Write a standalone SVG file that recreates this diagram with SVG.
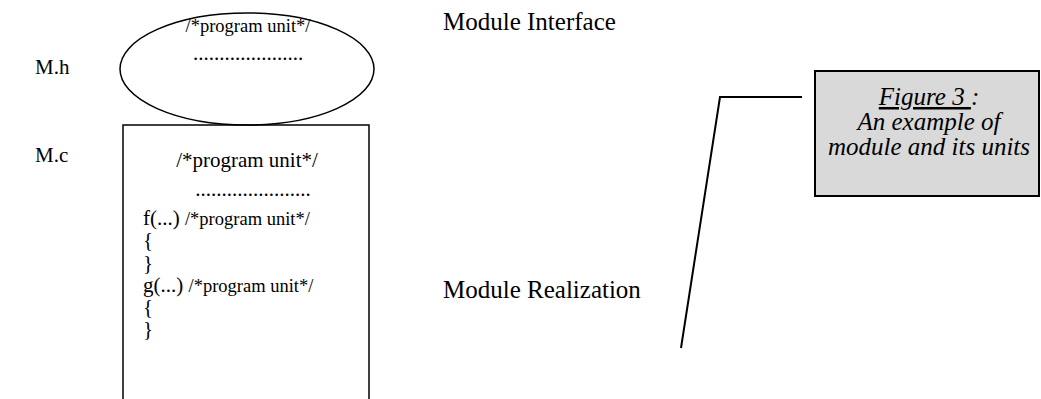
<svg xmlns="http://www.w3.org/2000/svg" width="1041" height="399" viewBox="0 0 1041 399">
  <style>
    .t { font-family: "Liberation Serif", "Times New Roman", serif; font-size: 21px; fill: #000; }
    .s { font-size: 18.5px; }
    .m { font-size: 25px; }
    .e { font-size: 18.5px; }
    .i { font-family: "Liberation Serif", "Times New Roman", serif; font-size: 25px; font-style: italic; fill: #000; }
    .shape { fill: none; stroke: #000; stroke-width: 1.5; }
    .conn { fill: none; stroke: #000; stroke-width: 2; }
  </style>

  <!-- file labels -->
  <g id="label-mh"><text class="t" x="35" y="74">M.h</text></g>
  <g id="label-mc"><text class="t" x="35" y="162">M.c</text></g>

  <!-- interface: header file -->
  <g id="interface">
    <ellipse class="shape" cx="247" cy="69" rx="127" ry="56"/>
    <text class="t e" x="248" y="32" text-anchor="middle">/*program unit*/</text>
    <text class="t" x="248" y="60" text-anchor="middle">.....................</text>
  </g>

  <!-- realization: source file -->
  <g id="realization">
    <rect class="shape" x="123" y="125" width="246" height="290"/>
    <text class="t" x="247" y="167" text-anchor="middle">/*program unit*/</text>
    <text class="t" x="253" y="196" text-anchor="middle">......................</text>
    <text class="t" x="143" y="225">f(...) <tspan class="s">/*program unit*/</tspan></text>
    <text class="t" x="143" y="247">{</text>
    <text class="t" x="143" y="270">}</text>
    <text class="t" x="143" y="292">g(...) <tspan class="s">/*program unit*/</tspan></text>
    <text class="t" x="143" y="314">{</text>
    <text class="t" x="143" y="336">}</text>
  </g>

  <g id="label-interface"><text class="t m" x="443" y="30">Module Interface</text></g>
  <g id="label-realization"><text class="t m" x="443" y="298">Module Realization</text></g>

  <!-- callout leader -->
  <g id="connectors">
    <polyline class="conn" points="802,97 720,97 681,348"/>
  </g>

  <!-- caption box -->
  <g id="caption">
    <rect x="815" y="71" width="224" height="125" fill="#d9d9d9" stroke="#000" stroke-width="2"/>
    <text class="i" x="929" y="105" text-anchor="middle"><tspan text-decoration="underline">Figure 3 </tspan>:</text>
    <text class="i" x="929" y="130" text-anchor="middle">An example of</text>
    <text class="i" x="929" y="155" text-anchor="middle">module and its units</text>
  </g>
</svg>
